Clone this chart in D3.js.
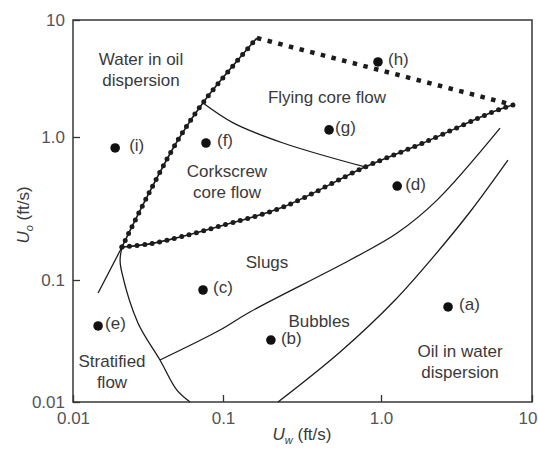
<!DOCTYPE html>
<html>
<head>
<meta charset="utf-8">
<script src="https://cdn.jsdelivr.net/npm/d3@7"></script>
<style>
  body { margin: 0; background: #fff; }
  text { font-family: "Liberation Sans", Arial, sans-serif; }
</style>
</head>
<body>
<div id="chart"></div>
<script>
// Flow pattern map, U_w vs U_o (ft/s), both log scale

// tick values / labels
const tickValues = [0.01, 0.1, 1, 10];
const tickLabels = ['0.01', '0.1', '1.0', '10'];

// measured points (a)..(i): [Uw, Uo]
const pointNames = ['(a)', '(b)', '(c)', '(d)', '(e)', '(f)', '(g)', '(h)', '(i)'];
const pointUw = [2.78, 0.201, 0.0736, 1.28, 0.0147, 0.077, 0.469, 0.957, 0.0191];
const pointUo = [0.0601, 0.0322, 0.0828, 0.454, 0.042, 0.908, 1.15, 4.38, 0.838];

// heavy dotted boundaries
const waterOilBoundary = [[0.0212, 0.170], [0.0311, 0.380], [0.0501, 0.953], [0.0759, 2.07], [0.164, 7.02]];
const flyingTopBoundary = [[0.164, 7.02], [7.48, 1.88]];
const coreLowerBoundary = [[0.0212, 0.170], [0.0326, 0.179], [0.0517, 0.200], [0.0912, 0.235],
  [0.240, 0.324], [0.793, 0.617], [1.90, 0.908], [5.52, 1.64], [7.48, 1.88]];

// thin boundaries
const flyingCorkscrew = [[0.0736, 1.95], [0.116, 1.32], [0.240, 0.908], [0.793, 0.617]];
const stratifiedLeft = [[0.0147, 0.0782], [0.0212, 0.170]];
const stratifiedRight = [[0.0212, 0.170], [0.0206, 0.138], [0.0212, 0.112], [0.0271, 0.0445],
  [0.038, 0.0221], [0.0493, 0.0125], [0.0603, 0.01]];
const slugsBubbles = [[0.038, 0.0221], [0.0955, 0.0389], [0.148, 0.0547], [0.637, 0.138],
  [1.28, 0.213], [2.35, 0.362], [6.14, 1.19]];
const bubblesDispersion = [[0.223, 0.01], [0.551, 0.0257], [1.24, 0.0686], [2.28, 0.150],
  [3.88, 0.299], [6.93, 0.690]];

// region labels: lines, Uw, Uo (centre of first line)
const regionLines = [['Water in oil', 'dispersion'], ['Flying core flow'], ['Corkscrew', 'core flow'],
  ['Slugs'], ['Bubbles'], ['Oil in water', 'dispersion'], ['Stratified', 'flow']];
const regionUw = [0.0284, 0.455, 0.106, 0.190, 0.406, 3.34, 0.0182];
const regionUo = [4.12, 1.95, 0.525, 0.121, 0.0412, 0.0234, 0.0194];

const width = 538, height = 464;
const textColor = '#3a3a3a';
const lineColor = '#1c1c1c';

const svg = d3.select('#chart').append('svg')
  .attr('width', width)
  .attr('height', height);

// the printed axes are not evenly spaced per decade, so use piecewise log scales
const x = d3.scaleLog().domain(tickValues).range([73, 223, 381, 532]);
const y = d3.scaleLog().domain(tickValues).range([402, 280, 137, 20]);

// frame
svg.append('rect')
  .attr('x', x(0.01)).attr('y', y(10))
  .attr('width', x(10) - x(0.01)).attr('height', y(0.01) - y(10))
  .attr('fill', 'none').attr('stroke', '#444').attr('stroke-width', 1.6);

// axes (inward ticks)
const xAxis = svg.append('g')
  .attr('transform', `translate(0,${y(0.01)})`)
  .call(d3.axisBottom(x).tickValues(tickValues)
    .tickFormat((d, i) => tickLabels[i]).tickSize(-7).tickPadding(10));
const yAxis = svg.append('g')
  .attr('transform', `translate(${x(0.01)},0)`)
  .call(d3.axisLeft(y).tickValues(tickValues)
    .tickFormat((d, i) => tickLabels[i]).tickSize(-7).tickPadding(8));

[xAxis, yAxis].forEach(g => {
  g.select('.domain').remove();
  g.selectAll('.tick line').attr('stroke', '#333').attr('stroke-width', 1.3);
  g.selectAll('.tick text')
    .attr('fill', '#555')
    .style('font-size', '17px')
    .style('font-family', '"Liberation Sans", Arial, sans-serif');
});

// last x label sits against the page edge
xAxis.selectAll('.tick text').filter(d => d === 10)
  .attr('text-anchor', 'end')
  .attr('dx', 5);

// axis titles
svg.append('text')
  .attr('x', 302).attr('y', 440)
  .attr('text-anchor', 'middle')
  .attr('fill', textColor)
  .style('font-size', '17px')
  .call(t => {
    t.append('tspan').style('font-style', 'italic').text('U');
    t.append('tspan').attr('dy', 4).style('font-size', '11px').style('font-style', 'italic').text('w');
    t.append('tspan').attr('dy', -4).text(' (ft/s)');
  });

svg.append('text')
  .attr('transform', 'translate(29,215) rotate(-90)')
  .attr('text-anchor', 'middle')
  .attr('fill', textColor)
  .style('font-size', '17px')
  .call(t => {
    t.append('tspan').style('font-style', 'italic').text('U');
    t.append('tspan').attr('dy', 4).style('font-size', '11px').style('font-style', 'italic').text('o');
    t.append('tspan').attr('dy', -4).text(' (ft/s)');
  });

const line = d3.line()
  .x(d => x(d[0]))
  .y(d => y(d[1]))
  .curve(d3.curveCatmullRom.alpha(0.5));

// thin solid boundaries
[flyingCorkscrew, stratifiedLeft, stratifiedRight, slugsBubbles, bubblesDispersion].forEach(pts => {
  svg.append('path')
    .attr('d', line(pts))
    .attr('fill', 'none')
    .attr('stroke', lineColor)
    .attr('stroke-width', 1.3);
});

// chain-like dotted boundaries
[waterOilBoundary, coreLowerBoundary].forEach(pts => {
  svg.append('path')
    .attr('d', line(pts))
    .attr('fill', 'none')
    .attr('stroke', lineColor)
    .attr('stroke-width', 1.6);
  svg.append('path')
    .attr('d', line(pts))
    .attr('fill', 'none')
    .attr('stroke', lineColor)
    .attr('stroke-width', 5)
    .attr('stroke-linecap', 'round')
    .attr('stroke-dasharray', '0 7.6');
});

// square-dotted top boundary
svg.append('path')
  .attr('d', line(flyingTopBoundary))
  .attr('fill', 'none')
  .attr('stroke', lineColor)
  .attr('stroke-width', 4.5)
  .attr('stroke-dasharray', '4.5 6.5');

// points
const points = pointNames.map((name, i) => ({ name, uw: pointUw[i], uo: pointUo[i] }));
const labelGap = { '(a)': 11, '(b)': 10, '(c)': 10, '(d)': 8, '(e)': 7, '(f)': 11, '(g)': 6, '(h)': 10, '(i)': 14 };

svg.selectAll('.pt')
  .data(points)
  .enter()
  .append('circle')
  .attr('class', 'pt')
  .attr('cx', d => x(d.uw))
  .attr('cy', d => y(d.uo))
  .attr('r', 4.8)
  .attr('fill', '#111');

svg.selectAll('.pt-label')
  .data(points)
  .enter()
  .append('text')
  .attr('class', 'pt-label')
  .attr('x', d => x(d.uw) + labelGap[d.name])
  .attr('y', d => y(d.uo) - 1)
  .attr('dominant-baseline', 'middle')
  .attr('fill', textColor)
  .style('font-size', '17px')
  .text(d => d.name);

// region labels
regionLines.forEach((lines, i) => {
  const t = svg.append('text')
    .attr('text-anchor', 'middle')
    .attr('fill', textColor)
    .style('font-size', '17px');
  lines.forEach((s, j) => {
    t.append('tspan')
      .attr('x', x(regionUw[i]))
      .attr('y', y(regionUo[i]) + j * 21)
      .text(s);
  });
});
</script>
</body>
</html>
